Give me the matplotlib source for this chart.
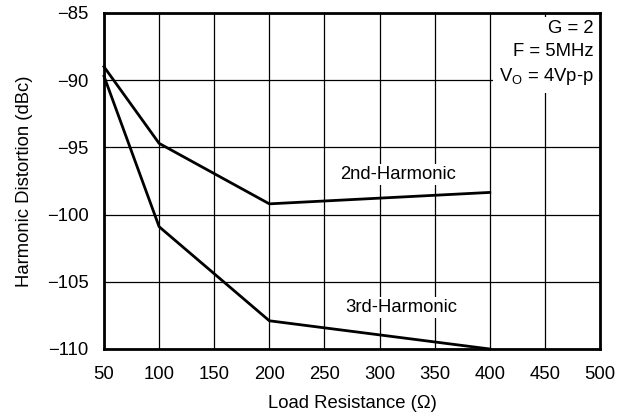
import matplotlib
matplotlib.use("Agg")
import matplotlib.pyplot as plt

plt.rcParams['font.family'] = ['Liberation Sans', 'DejaVu Sans']
plt.rcParams['mathtext.fontset'] = 'custom'
plt.rcParams['mathtext.rm'] = 'Liberation Sans'
plt.rcParams['mathtext.default'] = 'regular'

# load resistance (ohm) and distortion (dBc)
load = [50, 100, 200, 400]
second_harm = [-89.0, -94.7, -99.2, -98.35]
third_harm = [-89.7, -100.9, -107.9, -110.0]

xticks = [50, 100, 150, 200, 250, 300, 350, 400, 450, 500]
yticks = [-110, -105, -100, -95, -90, -85]

fs = 13.3

fig = plt.figure(figsize=(6.34, 4.16), dpi=100)
ax = fig.add_axes([104 / 634, 1 - 349 / 416, 496 / 634, 336 / 416])

ax.plot(load, second_harm, color='black', lw=2, zorder=3, clip_on=False)
ax.plot(load, third_harm, color='black', lw=2, zorder=3, clip_on=False)

ax.set_xlim(50, 500)
ax.set_ylim(-110, -85)
ax.set_xticks(xticks)
ax.set_yticks(yticks)
ax.set_yticklabels(['\u2212' + str(abs(v)) for v in yticks])
ax.tick_params(length=0, labelsize=fs)
ax.tick_params(axis='y', pad=11)
ax.tick_params(axis='x', pad=12)
ax.grid(True, color='black', lw=0.9)
ax.set_axisbelow(True)
for s in ax.spines.values():
    s.set_linewidth(2)

ax.set_xlabel('Load Resistance (\u03a9)', fontsize=fs, labelpad=9)
ax.set_ylabel('Harmonic Distortion (dBc)', fontsize=fs, labelpad=10)

box = dict(facecolor='white', edgecolor='none', pad=1.5)
ax.text(317, -97.05, '2nd-Harmonic', fontsize=fs, ha='center', va='center', bbox=box, zorder=2)
ax.text(320, -106.9, '3rd-Harmonic', fontsize=fs, ha='center', va='center', bbox=box, zorder=2)
ax.text(494, -85.55, 'G = 2\nF = 5MHz\nV$_O$ = 4Vp-p', fontsize=fs, ha='right', va='top',
        linespacing=1.42, bbox=dict(facecolor='white', edgecolor='none', pad=4), zorder=2)

fig.savefig('out.png', dpi=100)
